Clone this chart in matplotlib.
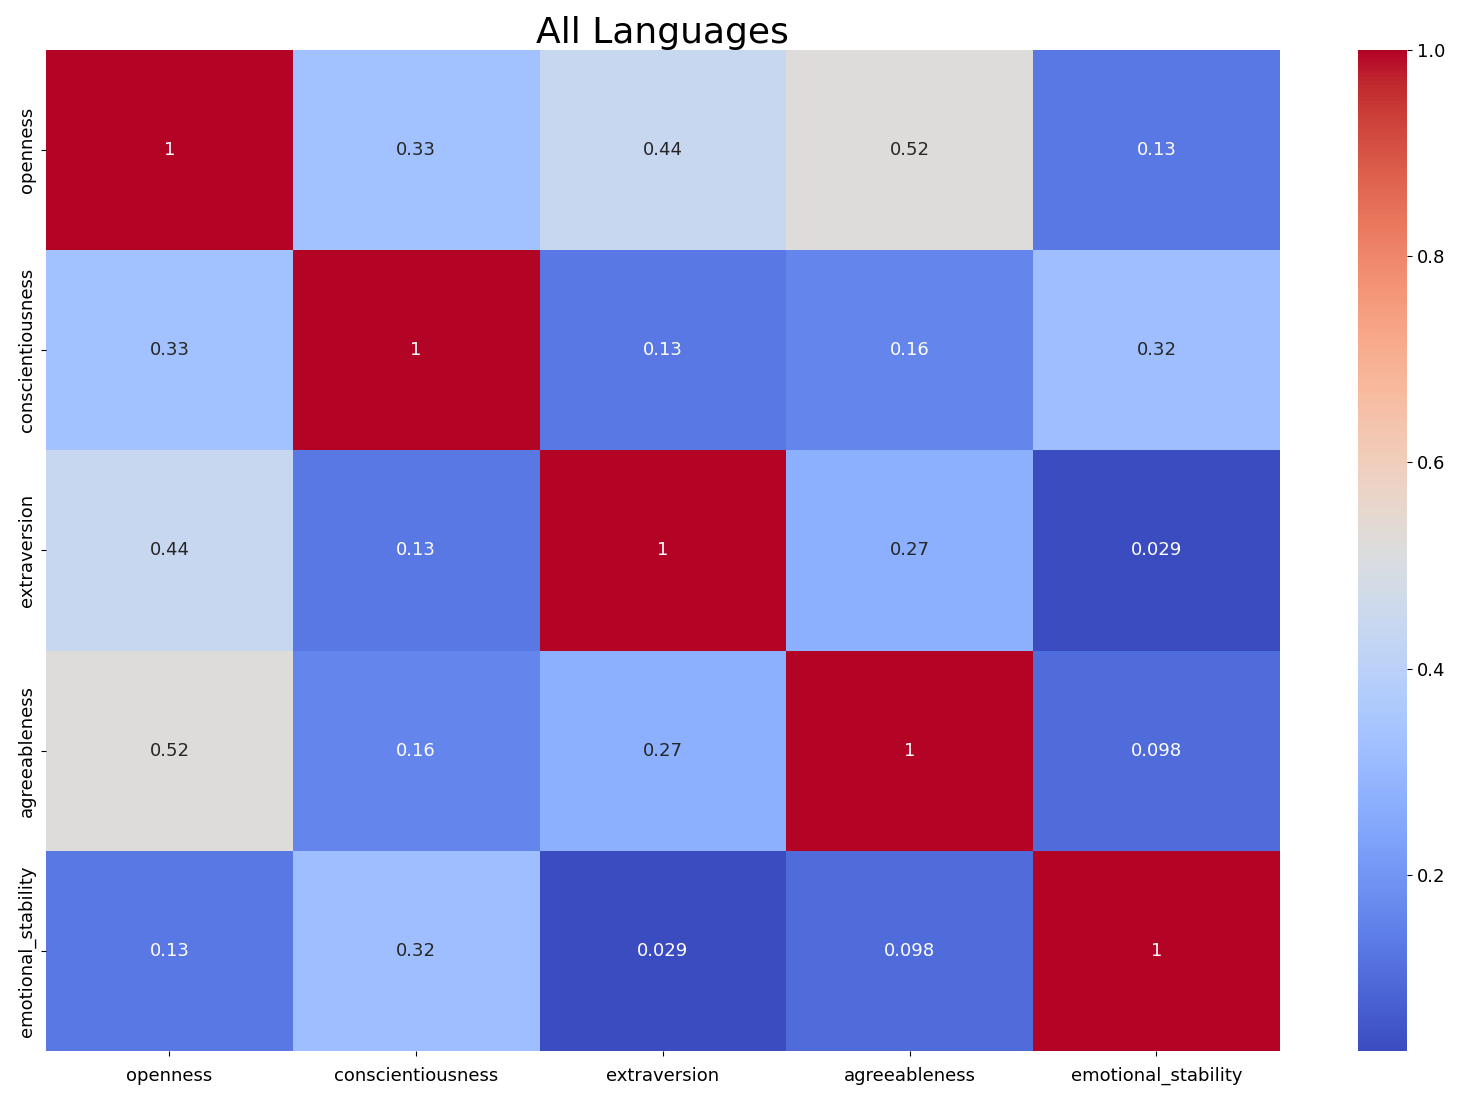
import matplotlib
matplotlib.use("Agg")
import matplotlib.pyplot as plt
import seaborn as sns
import numpy as np
import pandas as pd

traits = ["openness", "conscientiousness", "extraversion", "agreeableness", "emotional_stability"]
row_openness = [1.0, 0.33, 0.44, 0.52, 0.13]
row_conscientiousness = [0.33, 1.0, 0.13, 0.16, 0.32]
row_extraversion = [0.44, 0.13, 1.0, 0.27, 0.029]
row_agreeableness = [0.52, 0.16, 0.27, 1.0, 0.098]
row_emotional_stability = [0.13, 0.32, 0.029, 0.098, 1.0]
title = "All Languages"

corr = pd.DataFrame([row_openness, row_conscientiousness, row_extraversion,
                     row_agreeableness, row_emotional_stability],
                    index=traits, columns=traits)

fig = plt.figure(figsize=(14.61, 10.98), dpi=100)
ax = fig.add_axes([0.0315, 0.0428, 0.8445, 0.9117])
cax = fig.add_axes([0.9295, 0.0428, 0.0335, 0.9117])
sns.heatmap(corr, annot=True, cmap="coolwarm", ax=ax, cbar_ax=cax,
            annot_kws={"fontsize": 13})
ax.set_title(title, fontsize=26, pad=4)
ax.tick_params(axis="both", labelsize=13)
ax.tick_params(axis="x", pad=8)
cax.tick_params(labelsize=13)
plt.setp(ax.get_yticklabels(), rotation=90, va="center")
plt.setp(ax.get_xticklabels(), rotation=0)
fig.savefig("out.png", dpi=100)
